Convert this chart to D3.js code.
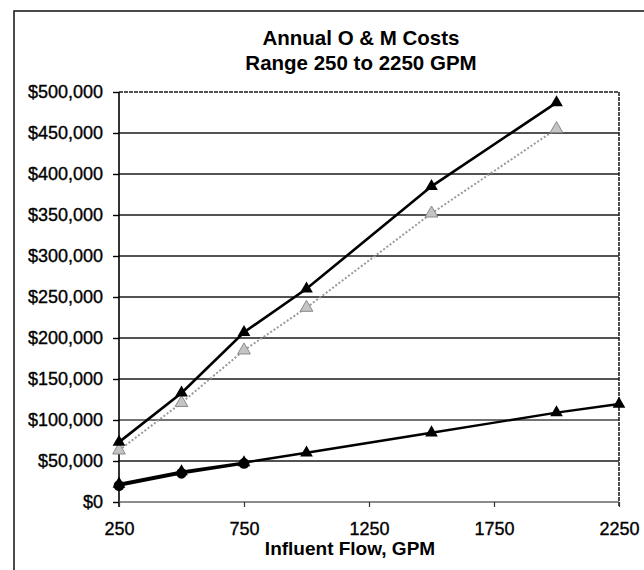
<!DOCTYPE html>
<html>
<head>
<meta charset="utf-8">
<script src="https://cdn.jsdelivr.net/npm/d3@7"></script>
<style>
  html, body { margin: 0; padding: 0; background: #fff; }
  svg { display: block; font-family: "Liberation Sans", Arial, sans-serif; }
</style>
</head>
<body>
<svg id="chart" width="644" height="570"></svg>
<script>
// ---- data ----
const titleLines = ["Annual O & M Costs", "Range 250 to 2250 GPM"];
const xAxisTitle = "Influent Flow, GPM";
const xTicks = [250, 750, 1250, 1750, 2250];
const yTicks = [0, 50000, 100000, 150000, 200000, 250000, 300000, 350000, 400000, 450000, 500000];

const flowA = [250, 500, 750, 1000, 1500, 2000];
const costA = [73000, 133000, 207000, 260000, 385000, 487000];

const flowB = [250, 500, 750, 1000, 1500, 2000];
const costB = [63000, 121000, 185000, 237000, 352000, 455000];

const flowC = [250, 500, 750, 1000, 1500, 2000, 2250];
const costC = [22000, 37000, 48000, 60000, 84500, 109000, 119500];

const flowD = [250, 500, 750];
const costD = [20000, 35000, 47000];

// ---- layout ----
const svg = d3.select("#chart");
const plot = { left: 119, right: 619, top: 92, bottom: 502 };

const x = d3.scaleLinear().domain([250, 2250]).range([plot.left, plot.right]);
const y = d3.scaleLinear().domain([0, 500000]).range([plot.bottom, plot.top]);

// outer frame
svg.append("rect").attr("x", 14).attr("y", 11).attr("width", 660).attr("height", 600)
  .attr("fill", "none").attr("stroke", "#111").attr("stroke-width", 1.5);

// title
svg.append("g").selectAll("text").data(titleLines).join("text")
  .attr("x", 361).attr("y", (d, i) => 45 + i * 25)
  .attr("text-anchor", "middle").attr("font-weight", "bold").attr("font-size", "20.5px")
  .attr("fill", "#000").text(d => d);

// gridlines
svg.append("g").selectAll("line").data(yTicks.filter(d => d > 0)).join("line")
  .attr("x1", plot.left).attr("x2", plot.right)
  .attr("y1", d => y(d)).attr("y2", d => y(d))
  .attr("stroke", d => d === 100000 ? "#444" : "#1a1a1a")
  .attr("stroke-width", 1.6)
  .attr("stroke-dasharray", d => d === 500000 ? "4,1" : null);

// right border of plot
svg.append("line").attr("x1", plot.right).attr("x2", plot.right)
  .attr("y1", plot.top).attr("y2", plot.bottom + 5)
  .attr("stroke", "#222").attr("stroke-width", 1.6).attr("stroke-dasharray", "4,1");

// y axis
const yAxis = d3.axisLeft(y).tickValues(yTicks).tickSize(6).tickPadding(10)
  .tickFormat(d => "$" + d3.format(",")(d));
const gy = svg.append("g").attr("transform", `translate(${plot.left},0)`).call(yAxis);
gy.select(".domain").attr("stroke", "#000").attr("stroke-width", 1.6)
  .attr("d", `M0,${plot.top}V${plot.bottom + 5}`);
gy.selectAll(".tick line").attr("stroke", "#000").attr("stroke-width", 1.4);
gy.selectAll(".tick text").attr("font-size", "18px").attr("fill", "#000")
  .attr("font-family", "Liberation Sans, Arial, sans-serif")
  .attr("stroke", "#000").attr("stroke-width", 0.35);

// x axis
const xAxis = d3.axisBottom(x).tickValues(xTicks).tickSize(5).tickPadding(15)
  .tickFormat(d3.format("d"));
const gx = svg.append("g").attr("transform", `translate(0,${plot.bottom})`).call(xAxis);
gx.select(".domain").attr("stroke", "#666").attr("stroke-width", 1.6)
  .attr("d", `M${plot.left},0H${plot.right}`);
gx.selectAll(".tick line").attr("stroke", "#333").attr("stroke-width", 1.2);
gx.selectAll(".tick text").attr("font-size", "18px").attr("fill", "#000")
  .attr("font-family", "Liberation Sans, Arial, sans-serif")
  .attr("stroke", "#000").attr("stroke-width", 0.35);

// x axis title
svg.append("text").attr("x", 350).attr("y", 555)
  .attr("text-anchor", "middle").attr("font-weight", "bold").attr("font-size", "19px")
  .attr("fill", "#000").text(xAxisTitle);

// series
const line = d3.line().x(d => x(d[0])).y(d => y(d[1]));
const tri = d3.symbol().type(d3.symbolTriangle).size(70);
const circ = d3.symbol().type(d3.symbolCircle).size(90);

function series(flows, costs, opts) {
  const pts = flows.map((f, i) => [f, costs[i]]);
  const g = svg.append("g");
  g.append("path").datum(pts).attr("d", line).attr("fill", "none")
    .attr("stroke", opts.color).attr("stroke-width", opts.width)
    .attr("stroke-dasharray", opts.dash || null);
  g.selectAll("path.m").data(pts).join("path").attr("class", "m")
    .attr("d", opts.symbol)
    .attr("transform", d => `translate(${x(d[0])},${y(d[1])})`)
    .attr("fill", opts.fill).attr("stroke", opts.mstroke || "none").attr("stroke-width", 1);
}

series(flowD, costD, { color: "#000", width: 2.5, symbol: circ, fill: "#000" });
series(flowB, costB, { color: "#9a9a9a", width: 2, dash: "2,2", symbol: tri, fill: "#c4c4c4", mstroke: "#8a8a8a" });
series(flowC, costC, { color: "#000", width: 2.4, symbol: tri, fill: "#000" });
series(flowA, costA, { color: "#000", width: 2.6, symbol: tri, fill: "#000" });
</script>
</body>
</html>
